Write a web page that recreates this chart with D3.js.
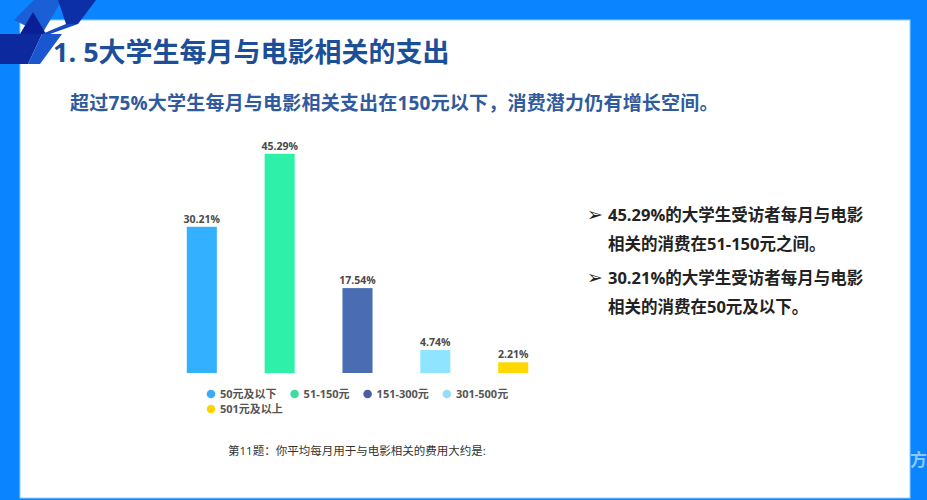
<!DOCTYPE html>
<html>
<head>
<meta charset="utf-8">
<script src="https://cdn.jsdelivr.net/npm/d3@7"></script>
<style>
  body { margin: 0; background: #fff; }
  svg { display: block; }
  text { font-family: "Open Sans", "Noto Sans CJK SC", sans-serif; }
</style>
</head>
<body>
<svg id="chart" width="927" height="500"></svg>
<script>
// data
var categories = ["50元及以下", "51-150元", "151-300元", "301-500元", "501元及以上"];
var values = [30.21, 45.29, 17.54, 4.74, 2.21];
var barColors = ["#33b0ff", "#2ff0a8", "#4a6cb2", "#8fe4ff", "#ffd800"];
var dotColors = ["#3ea9f5", "#3ddc9e", "#4b5f9f", "#95def7", "#ffd400"];
var title = "1. 5大学生每月与电影相关的支出";
var subtitle = "超过75%大学生每月与电影相关支出在150元以下，消费潜力仍有增长空间。";
var notes = [
    ["45.29%的大学生受访者每月与电影", "相关的消费在51-150元之间。"],
    ["30.21%的大学生受访者每月与电影", "相关的消费在50元及以下。"]
];
var question = "第11题：你平均每月用于与电影相关的费用大约是:";

var svg = d3.select("#chart");

// slide frame
svg.append("rect").attr("width", 927).attr("height", 500).attr("fill", "#0a84ff");
svg.append("rect").attr("x", 20).attr("y", 20).attr("width", 890).attr("height", 478)
    .attr("fill", "#ffffff").attr("stroke", "#8fd0ff").attr("stroke-width", 1);

// corner decoration
var corner = svg.append("g");
var shapes = [
    {p: [[0, 34], [42, 34], [28, 64], [0, 64]], c: "#0c2a9e"},
    {p: [[14, 20], [34, 0], [62, 0], [42, 34]], c: "#1b5fd6"},
    {p: [[20, 34], [33, 12], [46, 34]], c: "#0a1f94"},
    {p: [[58, 0], [96, 0], [78, 24], [66, 24]], c: "#0c2fa8"},
    {p: [[42, 34], [66, 24], [78, 24], [50, 34]], c: "#1648c4"},
    {p: [[28, 64], [42, 34], [62, 34], [40, 64]], c: "#1a56d0"},
    {p: [[0, 20], [14, 20], [20, 34], [0, 34]], c: "#0a84ff"}
];
corner.selectAll("polygon").data(shapes).join("polygon")
    .attr("points", function (d) { return d.p.join(" "); })
    .attr("fill", function (d) { return d.c; });

// titles
svg.append("text").attr("x", 53).attr("y", 62)
    .attr("font-size", 27).attr("font-weight", "bold").attr("fill", "#1d4f99")
    .text(title);
svg.append("text").attr("x", 70).attr("y", 110)
    .attr("font-size", 19).attr("font-weight", "bold").attr("fill", "#2f5b9e")
    .attr("letter-spacing", 0.2)
    .text(subtitle);

// bars
var x = d3.scaleBand().domain(categories).range([139, 576]).padding(0.614);
var y = d3.scaleLinear().domain([0, 50]).range([373, 131]);

svg.append("g").selectAll("rect").data(values).join("rect")
    .attr("x", function (d, i) { return x(categories[i]); })
    .attr("y", function (d) { return y(d); })
    .attr("width", x.bandwidth())
    .attr("height", function (d) { return y(0) - y(d); })
    .attr("fill", function (d, i) { return barColors[i]; });

svg.append("g").selectAll("text").data(values).join("text")
    .attr("x", function (d, i) { return x(categories[i]) + x.bandwidth() / 2; })
    .attr("y", function (d) { return y(d) - 4; })
    .attr("text-anchor", "middle")
    .attr("font-size", 10.5).attr("font-weight", "bold").attr("fill", "#4a4a4a")
    .text(function (d) { return d.toFixed(2) + "%"; });

// legend, wraps to a second row
var legend = svg.append("g");
var lx = 211, ly = 394;
categories.forEach(function (c, i) {
    var item = legend.append("g");
    item.append("circle").attr("r", 4.3).attr("fill", dotColors[i]);
    var t = item.append("text").attr("x", 9).attr("dy", "0.35em")
        .attr("font-size", 11).attr("font-weight", "bold").attr("fill", "#555")
        .text(c);
    var w = t.node().getComputedTextLength() + 9;
    if (lx + w > 520) { lx = 211; ly += 15; }
    item.attr("transform", "translate(" + lx + "," + ly + ")");
    lx += w + 18;
});

// question caption
svg.append("text").attr("x", 228).attr("y", 455)
    .attr("font-size", 11.5).attr("fill", "#333")
    .text(question);

// side notes
var noteG = svg.append("g");
notes.forEach(function (lines, i) {
    var top = 221 + i * 63;
    noteG.append("text").attr("x", 587).attr("y", top)
        .attr("font-family", "DejaVu Sans").attr("font-size", 19).attr("fill", "#222")
        .text("➢");
    lines.forEach(function (l, j) {
        noteG.append("text").attr("x", 608).attr("y", top + j * 29)
            .attr("font-size", 16.5).attr("font-weight", "bold").attr("fill", "#222")
            .text(l);
    });
});

// watermark fragment on the right frame
svg.append("text").attr("x", 910).attr("y", 466)
    .attr("font-size", 17).attr("font-weight", "bold").attr("fill", "#8cc8ff")
    .text("方");
</script>
</body>
</html>
